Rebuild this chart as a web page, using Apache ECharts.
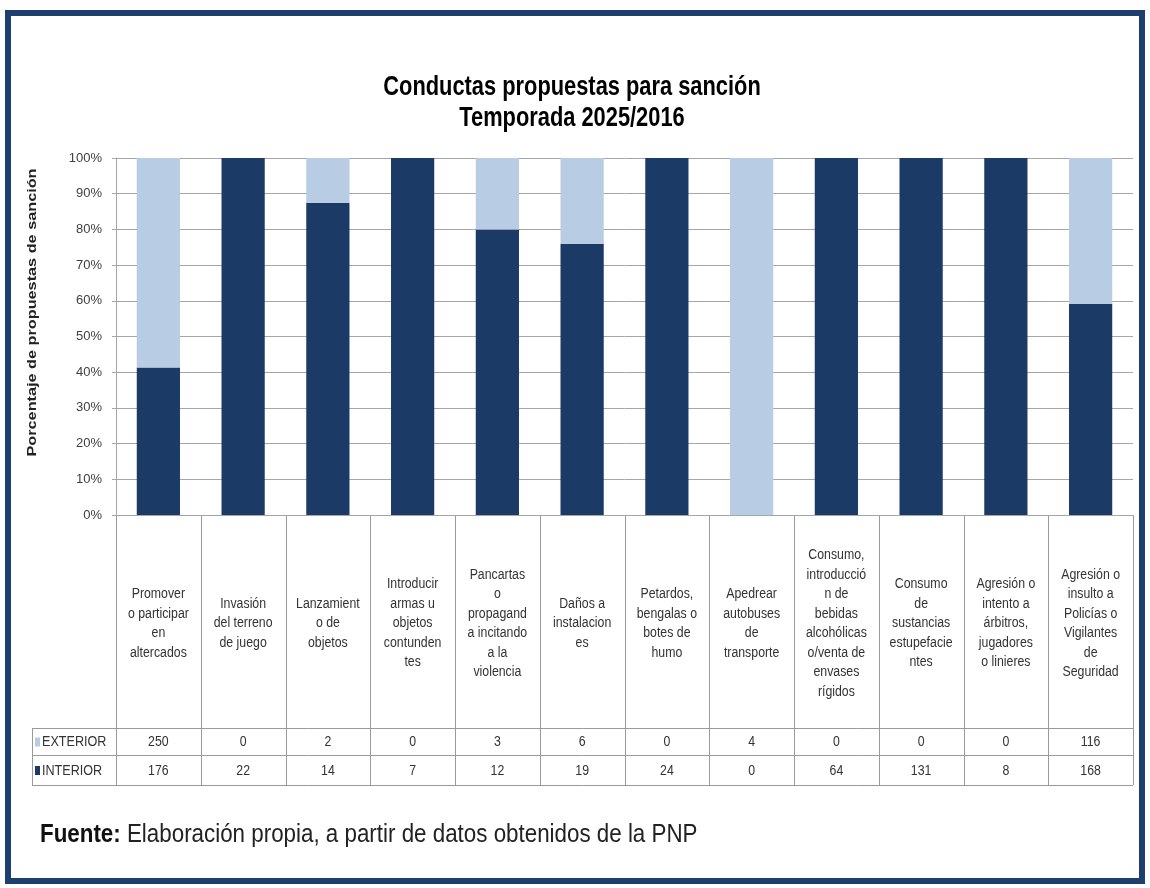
<!DOCTYPE html>
<html>
<head>
<meta charset="utf-8">
<script src="https://cdn.jsdelivr.net/npm/echarts@6/dist/echarts.min.js"></script>
<style>
html,body{margin:0;padding:0;background:#fff;}
#c{width:1150px;height:888px;}
</style>
</head>
<body>
<div id="c"></div>
<script>
const categories = [
  "Promover\no participar\nen\naltercados",
  "Invasión\ndel terreno\nde juego",
  "Lanzamient\no de\nobjetos",
  "Introducir\narmas u\nobjetos\ncontunden\ntes",
  "Pancartas\no\npropagand\na incitando\na la\nviolencia",
  "Daños a\ninstalacion\nes",
  "Petardos,\nbengalas o\nbotes de\nhumo",
  "Apedrear\nautobuses\nde\ntransporte",
  "Consumo,\nintroducció\nn de\nbebidas\nalcohólicas\no/venta de\nenvases\nrígidos",
  "Consumo\nde\nsustancias\nestupefacie\nntes",
  "Agresión o\nintento a\nárbitros,\njugadores\no linieres",
  "Agresión o\ninsulto a\nPolicías o\nVigilantes\nde\nSeguridad"
];
const seriesNames = ["EXTERIOR", "INTERIOR"];
const exterior = [250, 0, 2, 0, 3, 6, 0, 4, 0, 0, 0, 116];
const interior = [176, 22, 14, 7, 12, 19, 24, 0, 64, 131, 8, 168];
const yTicks = [0, 10, 20, 30, 40, 50, 60, 70, 80, 90, 100];
const titleLines = ["Conductas propuestas para sanción", "Temporada 2025/2016"];
const yAxisName = "Porcentaje de propuestas de sanción";
const sourceBold = "Fuente:";
const sourceText = " Elaboración propia, a partir de datos obtenidos de la PNP";

const DARK = "#1c3a66";
const LIGHT = "#b8cce4";
const FONT = "'Liberation Sans', Arial, sans-serif";

const pctInterior = interior.map((v, i) => { const t = v + exterior[i]; return t ? v / t * 100 : 0; });
const pctExterior = exterior.map((v, i) => { const t = v + interior[i]; return t ? v / t * 100 : 0; });

const chart = echarts.init(document.getElementById('c'), null, {renderer: 'canvas'});

const GRID = {left: 116, right: 17, top: 158, bottom: 373};
chart.setOption({
  animation: false,
  backgroundColor: '#fff',
  grid: GRID,
  xAxis: {
    type: 'category',
    data: categories,
    axisLine: {show: true, lineStyle: {color: '#a6a6a6'}},
    axisTick: {show: false},
    axisLabel: {show: false}
  },
  yAxis: {
    type: 'value',
    min: yTicks[0], max: yTicks[yTicks.length - 1], interval: 10,
    axisLine: {show: true, lineStyle: {color: '#a6a6a6'}},
    axisTick: {show: true, length: 4, lineStyle: {color: '#a6a6a6'}},
    axisLabel: {formatter: '{value}%', fontFamily: FONT, fontSize: 13, color: '#404040', margin: 14},
    splitLine: {show: true, lineStyle: {color: '#a6a6a6', width: 1}}
  },
  series: [
    {name: seriesNames[1], type: 'bar', stack: 'all', data: pctInterior, barWidth: '51%', itemStyle: {color: DARK}},
    {name: seriesNames[0], type: 'bar', stack: 'all', data: pctExterior, barWidth: '51%', itemStyle: {color: LIGHT}}
  ]
});

const n = categories.length;
const c0 = chart.convertToPixel({xAxisIndex: 0}, 0);
const c1 = chart.convertToPixel({xAxisIndex: 0}, 1);
const band = c1 - c0;
const axisY = chart.convertToPixel({yAxisIndex: 0}, 0);
const topY = chart.convertToPixel({yAxisIndex: 0}, 100);
const headerBottom = 728, row1Bottom = 755, row2Bottom = 785;
const tableLeft = 32;
const tableRight = c0 - band / 2 + band * n;
const lineColor = '#9a9a9a';
const g = [];

// Frame
g.push({type: 'rect', shape: {x: 8, y: 13, width: 1134, height: 868}, style: {fill: null, stroke: '#1d3e6e', lineWidth: 6}, z: 100});

// Title (condensed look)
titleLines.forEach((t, k) => {
  g.push({type: 'text', x: 572, y: 87 + k * 31, scaleX: 0.78,
    style: {text: t, align: 'center', verticalAlign: 'middle', fontFamily: FONT, fontWeight: 'bold', fontSize: 28, fill: '#000'}});
});

// Y axis name
g.push({type: 'text', x: 32, y: (axisY + topY) / 2 - 24, rotation: Math.PI / 2, scaleX: 1.25,
  style: {text: yAxisName, align: 'center', verticalAlign: 'middle', fontFamily: FONT, fontWeight: 'bold', fontSize: 13, fill: '#222'}});

// horizontal lines
[headerBottom, row1Bottom, row2Bottom].forEach((y) => {
  g.push({type: 'line', shape: {x1: tableLeft, y1: y + 0.5, x2: tableRight, y2: y + 0.5}, style: {stroke: lineColor, lineWidth: 1}});
});
// vertical lines
for (let i = 0; i <= n; i++) {
  const x = Math.round(c0 - band / 2 + band * i) + 0.5;
  g.push({type: 'line', shape: {x1: x, y1: axisY, x2: x, y2: row2Bottom}, style: {stroke: lineColor, lineWidth: 1}});
}
g.push({type: 'line', shape: {x1: tableLeft + 0.5, y1: headerBottom, x2: tableLeft + 0.5, y2: row2Bottom}, style: {stroke: lineColor, lineWidth: 1}});

// category texts and values
categories.forEach((txt, i) => {
  const cx = chart.convertToPixel({xAxisIndex: 0}, i);
  g.push({type: 'text', x: cx, y: (axisY + headerBottom) / 2 + 2, scaleX: 0.88,
    style: {text: txt, align: 'center', verticalAlign: 'middle', fontFamily: FONT, fontSize: 14, lineHeight: 19.5, fill: '#333'}});
  g.push({type: 'text', x: cx, y: (headerBottom + row1Bottom) / 2 + 1, scaleX: 0.88,
    style: {text: String(exterior[i]), align: 'center', verticalAlign: 'middle', fontFamily: FONT, fontSize: 14, fill: '#333'}});
  g.push({type: 'text', x: cx, y: (row1Bottom + row2Bottom) / 2 + 1, scaleX: 0.88,
    style: {text: String(interior[i]), align: 'center', verticalAlign: 'middle', fontFamily: FONT, fontSize: 14, fill: '#333'}});
});

// row headers with legend keys
[[seriesNames[0], LIGHT, (headerBottom + row1Bottom) / 2], [seriesNames[1], DARK, (row1Bottom + row2Bottom) / 2]].forEach(([name, col, y]) => {
  g.push({type: 'rect', shape: {x: 35, y: y - 4, width: 5, height: 9}, style: {fill: col}});
  g.push({type: 'text', x: 42, y: y + 1, scaleX: 0.9, style: {text: name, align: 'left', verticalAlign: 'middle', fontFamily: FONT, fontSize: 14, fill: '#333'}});
});

// source note
g.push({type: 'text', x: 40, y: 835, scaleX: 0.86, style: {
  text: '{b|' + sourceBold + '}{n|' + sourceText + '}', verticalAlign: 'middle', align: 'left',
  rich: {
    b: {fontFamily: FONT, fontWeight: 'bold', fontSize: 26, fill: '#111'},
    n: {fontFamily: FONT, fontSize: 26, fill: '#222'}
  }
}});

chart.setOption({graphic: g});
</script>
</body>
</html>
